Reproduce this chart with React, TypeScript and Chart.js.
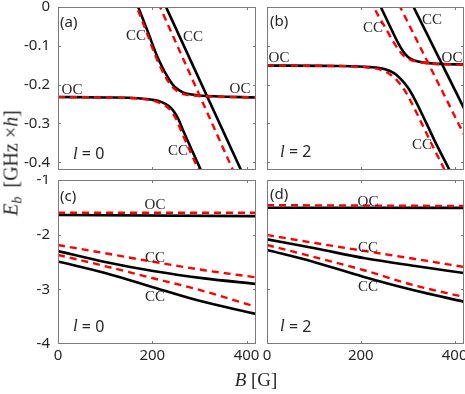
import React, { useEffect, useRef } from "react";
import { Chart, registerables } from "chart.js";

Chart.register(...registerables);

// ---------- axes ----------
const X_MIN = 0;
const X_MAX = 420;
const X_TICKS = [0, 200, 400];
const Y_TOP_MIN = -0.42;
const Y_TOP_MAX = 0;
const Y_TOP_TICKS = [0, -0.1, -0.2, -0.3, -0.4];
const Y_BOT_MIN = -4;
const Y_BOT_MAX = -1;
const Y_BOT_TICKS = [-1, -2, -3, -4];

// ---------- panel (a), l = 0 ----------
const A_LOW_BLACK_B = [0, 100, 170, 200, 220, 235, 245, 255, 265, 280, 300, 310];
const A_LOW_BLACK_E = [-0.232, -0.233, -0.235, -0.239, -0.245, -0.255, -0.268, -0.288, -0.317, -0.358, -0.412, -0.438];
const A_LOW_RED_B = [0, 100, 170, 196, 216, 231, 241, 251, 261, 276, 296, 306];
const A_LOW_RED_E = [-0.232, -0.233, -0.236, -0.24, -0.247, -0.257, -0.27, -0.29, -0.319, -0.36, -0.414, -0.44];
const A_UP_BLACK_B = [163, 170, 190, 209, 220, 230, 244, 255, 265, 280, 300, 330, 420];
const A_UP_BLACK_E = [0.02, 0, -0.062, -0.123, -0.152, -0.175, -0.201, -0.213, -0.22, -0.225, -0.228, -0.23, -0.233];
const A_UP_RED_B = [160, 167, 187, 206, 217, 227, 241, 252, 262, 278, 300, 330, 420];
const A_UP_RED_E = [0.02, 0, -0.062, -0.124, -0.154, -0.178, -0.204, -0.216, -0.223, -0.227, -0.229, -0.231, -0.233];
const A_STRAIGHT_BLACK_B = [225, 392];
const A_STRAIGHT_BLACK_E = [0.0108, -0.43];
const A_STRAIGHT_RED_B = [212.7, 374.7];
const A_STRAIGHT_RED_E = [0.01, -0.43];

// ---------- panel (b), l = 2 ----------
const B_LOW_BLACK_B = [0, 150, 220, 250, 270, 285, 300, 315, 340, 362, 387, 395];
const B_LOW_BLACK_E = [-0.151, -0.152, -0.155, -0.16, -0.17, -0.185, -0.207, -0.238, -0.3, -0.356, -0.415, -0.435];
const B_LOW_RED_B = [0, 150, 215, 243, 262, 277, 292, 307, 331, 353, 378, 386];
const B_LOW_RED_E = [-0.151, -0.152, -0.156, -0.162, -0.173, -0.189, -0.212, -0.244, -0.303, -0.358, -0.418, -0.438];
const B_UP_BLACK_B = [236, 242, 256, 269, 280, 290, 300, 312, 325, 340, 376, 420];
const B_UP_BLACK_E = [0.02, 0.002, -0.034, -0.067, -0.094, -0.114, -0.128, -0.137, -0.141, -0.144, -0.147, -0.148];
const B_UP_RED_B = [220, 227, 241, 255, 267, 278, 290, 305, 320, 340, 420];
const B_UP_RED_E = [0.02, 0.001, -0.03, -0.059, -0.085, -0.106, -0.124, -0.136, -0.141, -0.145, -0.149];
const B_STRAIGHT_BLACK_B = [310, 425];
const B_STRAIGHT_BLACK_E = [0.006, -0.273];
const B_STRAIGHT_RED_B = [281, 425];
const B_STRAIGHT_RED_E = [0.007, -0.341];

// ---------- panel (c), l = 0 ----------
const C_OC_BLACK_B = [0, 420];
const C_OC_BLACK_E = [-1.64, -1.66];
const C_OC_RED_B = [0, 420];
const C_OC_RED_E = [-1.6, -1.6];
const C_CC1_BLACK_B = [0, 100, 205, 310, 420];
const C_CC1_BLACK_E = [-2.3, -2.5, -2.67, -2.8, -2.9];
const C_CC1_RED_B = [0, 100, 205, 310, 420];
const C_CC1_RED_E = [-2.19, -2.34, -2.5, -2.65, -2.78];
const C_CC2_BLACK_B = [0, 100, 205, 300, 420];
const C_CC2_BLACK_E = [-2.49, -2.7, -2.97, -3.21, -3.45];
const C_CC2_RED_B = [0, 90, 210, 300, 420];
const C_CC2_RED_E = [-2.37, -2.555, -2.815, -3.01, -3.32];

// ---------- panel (d), l = 2 ----------
const D_OC_BLACK_B = [0, 420];
const D_OC_BLACK_E = [-1.507, -1.51];
const D_OC_RED_B = [0, 420];
const D_OC_RED_E = [-1.46, -1.475];
const D_CC1_BLACK_B = [0, 102, 209, 316, 420];
const D_CC1_BLACK_E = [-2.085, -2.249, -2.432, -2.573, -2.701];
const D_CC1_RED_B = [0, 102, 209, 316, 420];
const D_CC1_RED_E = [-2.006, -2.152, -2.299, -2.445, -2.591];
const D_CC2_BLACK_B = [0, 98, 205, 311, 420];
const D_CC2_BLACK_E = [-2.28, -2.494, -2.769, -3.012, -3.226];
const D_CC2_RED_B = [0, 98, 205, 311, 420];
const D_CC2_RED_E = [-2.189, -2.403, -2.646, -2.92, -3.14];

// ---------- annotations (text, B, E) ----------
const SERIF = "'Liberation Serif', 'DejaVu Serif', serif";
const SANS = "'Noto Sans', 'Open Sans', sans-serif";

type Part = { text: string; font: string };
type Label = { parts: Part[]; x: number; y: number; align: CanvasTextAlign };

const cls = (t: string, x: number, y: number): Label => ({ parts: [{ text: t, font: `15px ${SERIF}` }], x, y, align: "center" });
const tag = (t: string, x: number, y: number): Label => ({ parts: [{ text: t, font: `15px ${SANS}` }], x, y, align: "left" });
const ell = (v: string, x: number, y: number): Label => ({
  parts: [
    { text: "l", font: `italic 17px ${SERIF}` },
    { text: " = " + v, font: `16px ${SANS}` },
  ],
  x,
  y,
  align: "left",
});

const A_LABELS: Label[] = [
  tag("(a)", 4.2, -0.041),
  cls("CC", 165.5, -0.0747),
  cls("CC", 286.4, -0.0773),
  cls("OC", 29.7, -0.2139),
  cls("OC", 386, -0.2113),
  cls("CC", 254.5, -0.371),
  ell("0", 31.8, -0.381),
];
const B_LABELS: Label[] = [
  tag("(b)", 6.4, -0.0387),
  cls("CC", 226, -0.0541),
  cls("CC", 351.8, -0.0335),
  cls("OC", 25.6, -0.1314),
  cls("OC", 394.4, -0.1314),
  cls("CC", 330.5, -0.3556),
  ell("2", 27.7, -0.376),
];
const C_LABELS: Label[] = [
  tag("(c)", 4.2, -1.311),
  cls("OC", 205.8, -1.457),
  cls("CC", 205.8, -2.427),
  cls("CC", 205.8, -3.14),
  ell("0", 31.8, -3.689),
];
const D_LABELS: Label[] = [
  tag("(d)", 6.4, -1.274),
  cls("OC", 215.3, -1.397),
  cls("CC", 215.3, -2.244),
  cls("CC", 215.3, -2.958),
  ell("2", 27.7, -3.689),
];

type Series = { b: number[]; e: number[]; red: boolean };
const ser = (b: number[], e: number[], red: boolean): Series => ({ b, e, red });

type Spec = {
  left: number;
  top: number;
  w: number;
  h: number;
  padding: { left: number; top: number; right: number; bottom: number };
  showX: boolean;
  showY: boolean;
  yMin: number;
  yMax: number;
  yTicks: number[];
  series: Series[];
  labels: Label[];
};

const PANELS: Spec[] = [
  {
    left: 0, top: 0, w: 262, h: 178,
    padding: { left: 0, top: 7, right: 6, bottom: 8 },
    showX: false, showY: true,
    yMin: Y_TOP_MIN, yMax: Y_TOP_MAX, yTicks: Y_TOP_TICKS,
    series: [
      ser(A_LOW_BLACK_B, A_LOW_BLACK_E, false),
      ser(A_UP_BLACK_B, A_UP_BLACK_E, false),
      ser(A_STRAIGHT_BLACK_B, A_STRAIGHT_BLACK_E, false),
      ser(A_LOW_RED_B, A_LOW_RED_E, true),
      ser(A_UP_RED_B, A_UP_RED_E, true),
      ser(A_STRAIGHT_RED_B, A_STRAIGHT_RED_E, true),
    ],
    labels: A_LABELS,
  },
  {
    left: 262, top: 0, w: 203, h: 178,
    padding: { left: 5, top: 7, right: 1, bottom: 8 },
    showX: false, showY: false,
    yMin: Y_TOP_MIN, yMax: Y_TOP_MAX, yTicks: Y_TOP_TICKS,
    series: [
      ser(B_LOW_BLACK_B, B_LOW_BLACK_E, false),
      ser(B_UP_BLACK_B, B_UP_BLACK_E, false),
      ser(B_STRAIGHT_BLACK_B, B_STRAIGHT_BLACK_E, false),
      ser(B_LOW_RED_B, B_LOW_RED_E, true),
      ser(B_UP_RED_B, B_UP_RED_E, true),
      ser(B_STRAIGHT_RED_B, B_STRAIGHT_RED_E, true),
    ],
    labels: B_LABELS,
  },
  {
    left: 0, top: 175, w: 262, h: 219,
    padding: { left: 0, top: 5, right: 6, bottom: 20 },
    showX: true, showY: true,
    yMin: Y_BOT_MIN, yMax: Y_BOT_MAX, yTicks: Y_BOT_TICKS,
    series: [
      ser(C_OC_BLACK_B, C_OC_BLACK_E, false),
      ser(C_CC1_BLACK_B, C_CC1_BLACK_E, false),
      ser(C_CC2_BLACK_B, C_CC2_BLACK_E, false),
      ser(C_OC_RED_B, C_OC_RED_E, true),
      ser(C_CC1_RED_B, C_CC1_RED_E, true),
      ser(C_CC2_RED_B, C_CC2_RED_E, true),
    ],
    labels: C_LABELS,
  },
  {
    left: 262, top: 175, w: 203, h: 219,
    padding: { left: 5, top: 5, right: 1, bottom: 20 },
    showX: true, showY: false,
    yMin: Y_BOT_MIN, yMax: Y_BOT_MAX, yTicks: Y_BOT_TICKS,
    series: [
      ser(D_OC_BLACK_B, D_OC_BLACK_E, false),
      ser(D_CC1_BLACK_B, D_CC1_BLACK_E, false),
      ser(D_CC2_BLACK_B, D_CC2_BLACK_E, false),
      ser(D_OC_RED_B, D_OC_RED_E, true),
      ser(D_CC1_RED_B, D_CC1_RED_E, true),
      ser(D_CC2_RED_B, D_CC2_RED_E, true),
    ],
    labels: D_LABELS,
  },
];

const FRAME = "#7a7a7a";
const TEXT = "#262626";

function framePlugin(spec: Spec) {
  return {
    id: "frame",
    afterDatasetsDraw(chart: any) {
      const { ctx, chartArea: a, scales } = chart;
      ctx.save();
      ctx.strokeStyle = FRAME;
      ctx.lineWidth = 1;
      ctx.strokeRect(a.left + 0.5, a.top + 0.5, a.right - a.left - 1, a.bottom - a.top - 1);
      const tl = 3;
      ctx.beginPath();
      X_TICKS.forEach((v) => {
        const px = Math.round(scales.x.getPixelForValue(v)) + 0.5;
        if (px <= a.left + 1 || px >= a.right - 1) return;
        ctx.moveTo(px, a.bottom);
        ctx.lineTo(px, a.bottom - tl);
        ctx.moveTo(px, a.top);
        ctx.lineTo(px, a.top + tl);
      });
      spec.yTicks.forEach((v) => {
        const py = Math.round(scales.y.getPixelForValue(v)) + 0.5;
        if (py <= a.top + 1 || py >= a.bottom - 1) return;
        ctx.moveTo(a.left, py);
        ctx.lineTo(a.left + tl, py);
        ctx.moveTo(a.right, py);
        ctx.lineTo(a.right - tl, py);
      });
      ctx.stroke();

      // annotations
      ctx.fillStyle = TEXT;
      ctx.textBaseline = "middle";
      spec.labels.forEach((lb) => {
        let x = scales.x.getPixelForValue(lb.x);
        const y = scales.y.getPixelForValue(lb.y);
        let total = 0;
        lb.parts.forEach((p) => {
          ctx.font = p.font;
          total += ctx.measureText(p.text).width;
        });
        if (lb.align === "center") x -= total / 2;
        ctx.textAlign = "left";
        lb.parts.forEach((p) => {
          ctx.font = p.font;
          ctx.fillText(p.text, x, y);
          x += ctx.measureText(p.text).width;
        });
      });
      ctx.restore();
    },
  };
}

function Panel({ spec }: { spec: Spec }) {
  const ref = useRef<HTMLCanvasElement>(null);
  useEffect(() => {
    const canvas = ref.current;
    if (!canvas) return;
    const chart = new Chart(canvas, {
      type: "line",
      data: {
        datasets: spec.series.map((s) => ({
          data: s.b.map((b, i) => ({ x: b, y: s.e[i] })),
          borderColor: s.red ? "#ff0000" : "#000000",
          borderWidth: s.red ? 2.4 : 2.6,
          borderDash: s.red ? [7, 5] : [],
          pointRadius: 0,
          cubicInterpolationMode: "monotone" as const,
          fill: false,
          order: s.red ? 0 : 1,
        })),
      },
      options: {
        responsive: false,
        animation: false,
        devicePixelRatio: 1,
        events: [],
        layout: { padding: spec.padding },
        plugins: {
          legend: { display: false },
          tooltip: { enabled: false },
          title: { display: false },
        },
        scales: {
          x: {
            type: "linear",
            min: X_MIN,
            max: X_MAX,
            display: spec.showX,
            afterBuildTicks: (s: any) => {
              s.ticks = X_TICKS.map((v) => ({ value: v }));
            },
            afterFit: (s: any) => {
              s.height = spec.showX ? 30 : 0;
              s.paddingLeft = 0;
              s.paddingRight = 0;
            },
            grid: { display: false, drawTicks: false },
            border: { display: false },
            ticks: {
              padding: 3,
              autoSkip: false,
              maxRotation: 0,
              color: TEXT,
              font: { family: SANS, size: 15 },
              callback: (v: any) => String(v),
            },
          },
          y: {
            type: "linear",
            min: spec.yMin,
            max: spec.yMax,
            display: spec.showY,
            afterBuildTicks: (s: any) => {
              s.ticks = spec.yTicks.map((v) => ({ value: v }));
            },
            afterFit: (s: any) => {
              s.width = spec.showY ? 58 : 0;
              s.paddingTop = 0;
              s.paddingBottom = 0;
            },
            grid: { display: false, drawTicks: false },
            border: { display: false },
            ticks: {
              padding: 8,
              autoSkip: false,
              color: TEXT,
              font: { family: SANS, size: 15 },
              callback: (v: any) => String(v),
            },
          },
        },
      },
      plugins: [framePlugin(spec)],
    } as any);
    return () => chart.destroy();
  }, [spec]);
  return (
    <canvas
      ref={ref}
      width={spec.w}
      height={spec.h}
      style={{ position: "absolute", left: spec.left, top: spec.top, width: spec.w, height: spec.h }}
    />
  );
}

export default function App() {
  return (
    <div
      style={{
        position: "absolute",
        left: 0,
        top: 0,
        width: 465,
        height: 394,
        background: "#ffffff",
        overflow: "hidden",
      }}
    >
      {PANELS.map((p, i) => (
        <Panel key={i} spec={p} />
      ))}
      <div
        style={{
          position: "absolute",
          left: 12,
          top: 163,
          transform: "translate(-50%, -50%) rotate(-90deg)",
          whiteSpace: "nowrap",
          fontFamily: SERIF,
          fontSize: 20,
          color: TEXT,
          lineHeight: "22px",
        }}
      >
        <i>E</i>
        <span style={{ fontSize: 14, position: "relative", top: 4, fontStyle: "italic" }}>b</span>
        {"\u2009 [GHz \u00d7"}
        <i>h</i>]
      </div>
      <div
        style={{
          position: "absolute",
          left: 256,
          top: 380,
          transform: "translate(-50%, -50%)",
          whiteSpace: "nowrap",
          fontFamily: SERIF,
          fontSize: 19,
          color: TEXT,
          lineHeight: "22px",
        }}
      >
        <i>B</i> [G]
      </div>
    </div>
  );
}
